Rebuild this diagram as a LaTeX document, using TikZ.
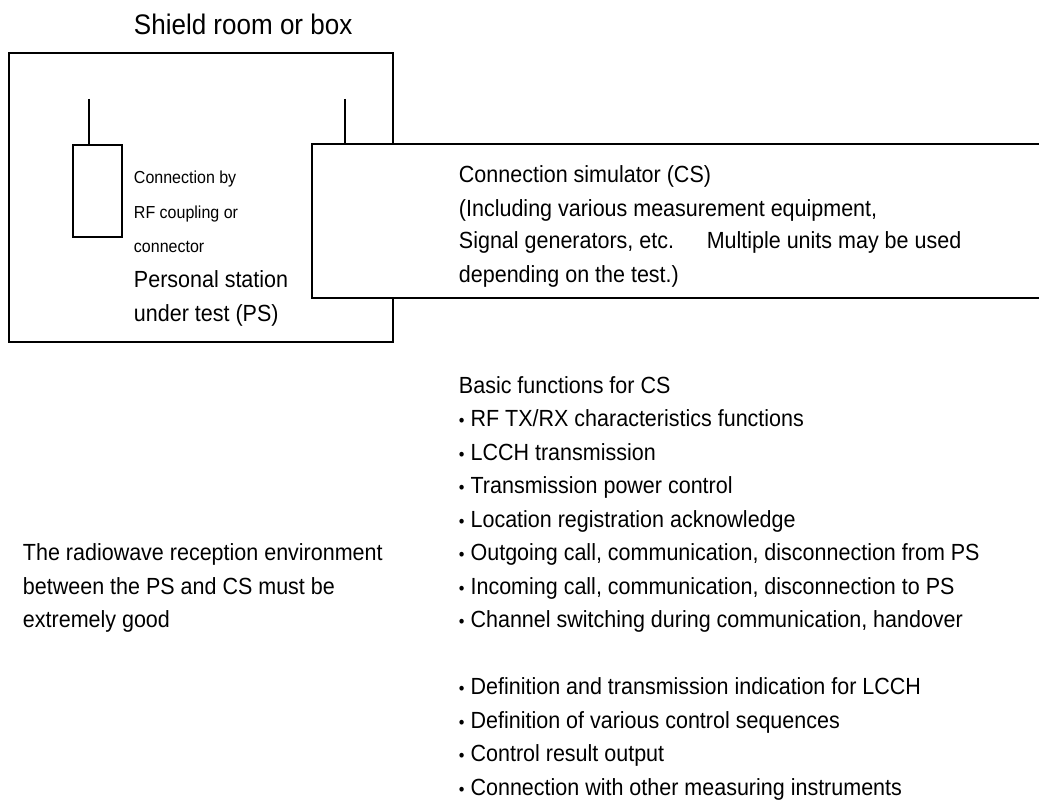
\documentclass[tikz,border=0pt]{standalone}
\usepackage{fontspec}
\setmainfont{Liberation Sans}[FakeStretch=0.92]
\usetikzlibrary{positioning}

\newcommand{\smallbullet}{{\fontsize{10}{10}\selectfont•} }

\begin{document}
\begin{tikzpicture}[x=0.02cm, y=-0.02cm, line width=1.1pt,
  box/.style={draw, inner sep=0pt},
  txt/.style={anchor=base west, inner sep=0pt, font=\fontsize{13.3}{16}\selectfont},
  small/.style={anchor=base west, inner sep=0pt, font=\fontsize{9.9}{12}\selectfont},
  title/.style={anchor=base west, inner sep=0pt, font=\fontsize{16.1}{19}\selectfont}]
\useasboundingbox (0,0) rectangle (1039,811);

% Shield room or box
\node[title] (shieldlbl) at (133,35) {Shield room or box};
\node[box, minimum width=7.68cm, minimum height=5.78cm] (shield) at (201,197.5) {};

% Personal station with antenna
\node[box, minimum width=0.98cm, minimum height=1.84cm] (ps) at (97.5,191) {};
\coordinate (psant) at (89,99);
\draw (psant) -- (psant |- ps.north);
\foreach \ln [count=\i from 0] in {Connection by, RF coupling or, connector}
  \node[small] (rf\i) at (133,184+34.5*\i) {\ln};
\foreach \ln [count=\i from 0] in {Personal station, under test (PS)}
  \node[txt] (pslbl\i) at (133,287+34*\i) {\ln};

% Connection simulator (open to the right)
\node[fill=white, inner sep=0pt, minimum width=14.52cm, minimum height=3.03cm] (cs) at (676,221) {};
\draw (cs.north east) -- (cs.north west) -- (cs.south west) -- (cs.south east);
\coordinate (csant) at (345,99);
\draw (csant) -- (csant |- cs.north);
\foreach \ln [count=\i from 0] in {Connection simulator (CS), {(Including various measurement equipment,}, {Signal generators, etc.\hspace{1.4em}Multiple units may be used}, {depending on the test.)}}
  \node[txt] (cs\i) at (458,183+33*\i) {\ln};

% Reception environment note
\foreach \ln [count=\i from 0] in {The radiowave reception environment, between the PS and CS must be, extremely good}
  \node[txt] (env\i) at (22,560.5+33.5*\i) {\ln};

% Basic functions for CS
\node[txt] (fn0) at (458,393) {Basic functions for CS};
\foreach \ln [count=\i from 1] in {RF TX/RX characteristics functions, LCCH transmission, Transmission power control, Location registration acknowledge, {Outgoing call, communication, disconnection from PS}, {Incoming call, communication, disconnection to PS}, {Channel switching during communication, handover}}
  \node[txt] (fn\i) at (458,393+33.5*\i) {\smallbullet\ln};
\foreach \ln [count=\i from 9] in {Definition and transmission indication for LCCH, Definition of various control sequences, Control result output, Connection with other measuring instruments}
  \node[txt] (fn\i) at (458,393+33.5*\i) {\smallbullet\ln};
\end{tikzpicture}
\end{document}
